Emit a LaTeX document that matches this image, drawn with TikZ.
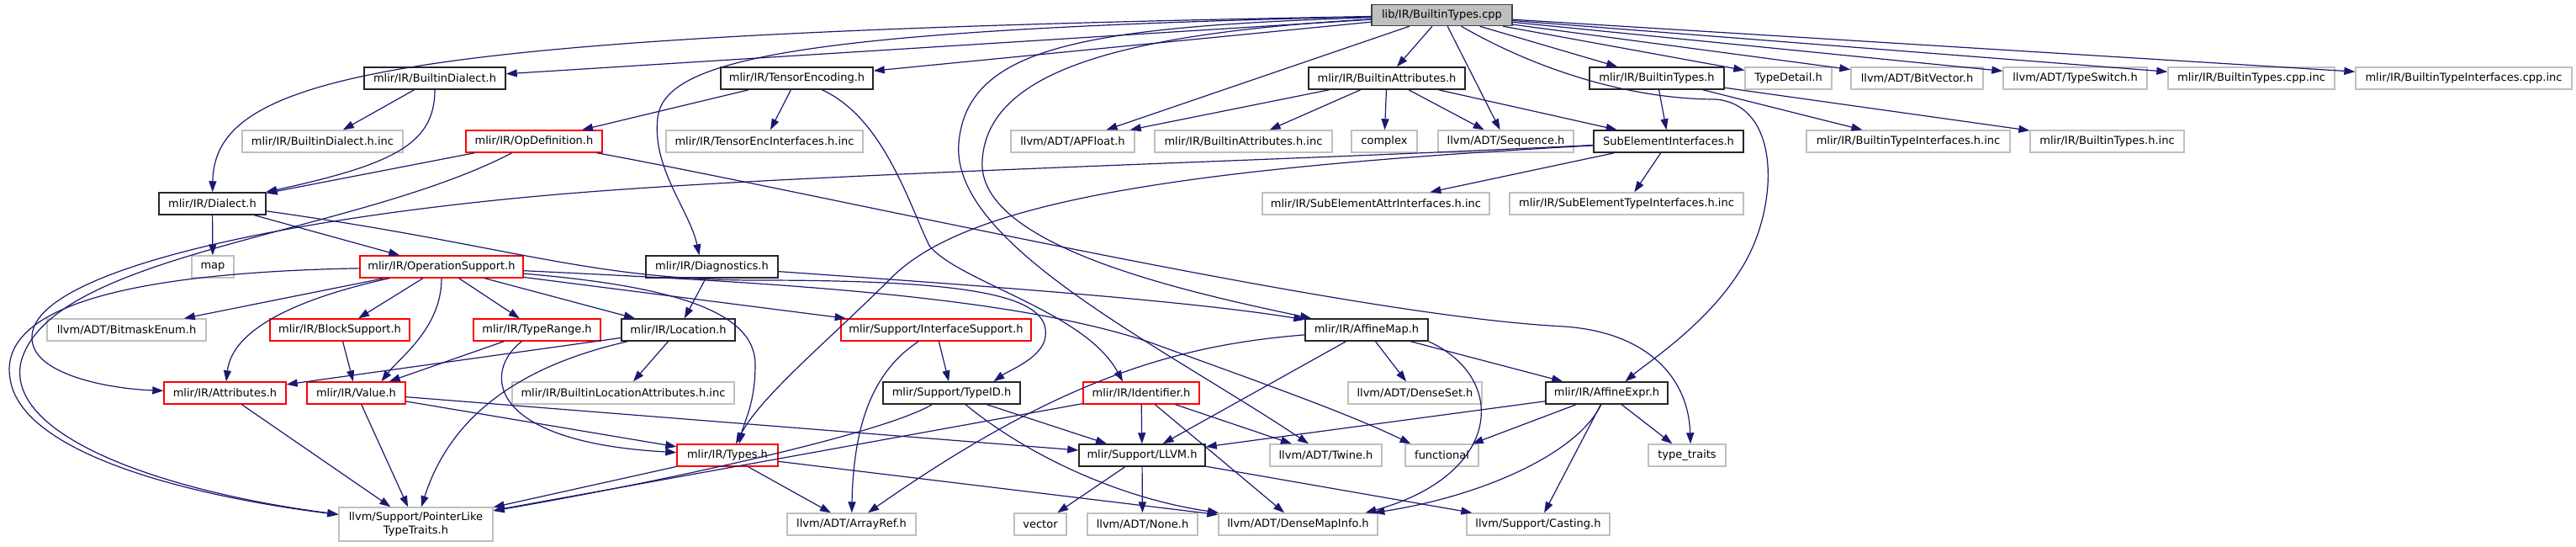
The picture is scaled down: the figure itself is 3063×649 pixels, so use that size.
\documentclass[tikz,border=0pt]{standalone}
\usepackage{fontspec}
\setmainfont{DejaVu Sans}
\usetikzlibrary{arrows.meta}
\definecolor{GraphEdge}{HTML}{191970}
\definecolor{GraphGrey}{HTML}{BFBFBF}
\definecolor{GraphRed}{HTML}{FF0000}
\definecolor{GraphInk}{HTML}{000000}
\tikzset{
  every node/.style={font=\fontsize{13}{15}\selectfont, text=GraphInk, inner sep=1pt, minimum height=26pt},
  docfile/.style={draw=GraphInk!85, line width=1.5pt, fill=white},
  extfile/.style={draw=GraphGrey, line width=1.4pt, fill=white},
  cutfile/.style={draw=GraphRed, line width=1.4pt, fill=white},
  rootfile/.style={draw=GraphInk!75, line width=1.5pt, fill=GraphGrey, minimum height=25pt},
  incl/.style={-{Triangle[length=13pt,width=9pt]}, draw=GraphEdge, line width=1.2pt},
}
\begin{document}
\begin{tikzpicture}[x=1pt,y=-1pt]
  \useasboundingbox (0,0) rectangle (3063,649);
  % Rank 0: the source file
  \node[rootfile, minimum width=167pt] (cpp) at (1714.5,18) {lib/IR/BuiltinTypes.cpp};
  % Rank 1
  \node[docfile, minimum width=168pt] (bdialect) at (517,93) {mlir/IR/BuiltinDialect.h};
  \node[docfile, minimum width=181pt] (tenc) at (947.5,93) {mlir/IR/TensorEncoding.h};
  \node[docfile, minimum width=186pt] (battr) at (1649,93) {mlir/IR/BuiltinAttributes.h};
  \node[docfile, minimum width=160pt] (btypes) at (1970,93) {mlir/IR/BuiltinTypes.h};
  \node[extfile, minimum width=103pt] (tdetail) at (2126.5,93) {TypeDetail.h};
  \node[extfile, minimum width=157pt] (bitvec) at (2279.5,93) {llvm/ADT/BitVector.h};
  \node[extfile, minimum width=171pt] (tswitch) at (2467.5,93) {llvm/ADT/TypeSwitch.h};
  \node[extfile, minimum width=198pt] (btcppinc) at (2677,93) {mlir/IR/BuiltinTypes.cpp.inc};
  \node[extfile, minimum width=257pt] (bticppinc) at (2929.5,93) {mlir/IR/BuiltinTypeInterfaces.cpp.inc};
  % Rank 2
  \node[extfile, minimum width=191pt] (bdialinc) at (383.5,168) {mlir/IR/BuiltinDialect.h.inc};
  \node[cutfile, minimum width=162pt] (opdef) at (635,168) {mlir/IR/OpDefinition.h};
  \node[extfile, minimum width=234pt] (tencinc) at (909,168) {mlir/IR/TensorEncInterfaces.h.inc};
  \node[extfile, minimum width=147pt] (apfloat) at (1275.5,168) {llvm/ADT/APFloat.h};
  \node[extfile, minimum width=211pt] (battrinc) at (1478.5,168) {mlir/IR/BuiltinAttributes.h.inc};
  \node[extfile, minimum width=78pt] (complex) at (1646,168) {complex};
  \node[extfile, minimum width=161pt] (sequence) at (1790.5,168) {llvm/ADT/Sequence.h};
  \node[docfile, minimum width=178pt] (subelem) at (1984,168) {SubElementInterfaces.h};
  \node[extfile, minimum width=242pt] (btihinc) at (2269,168) {mlir/IR/BuiltinTypeInterfaces.h.inc};
  \node[extfile, minimum width=183pt] (bthinc) at (2505.5,168) {mlir/IR/BuiltinTypes.h.inc};
  % Rank 3
  \node[docfile, minimum width=127pt] (dialect) at (252.5,242) {mlir/IR/Dialect.h};
  \node[extfile, minimum width=270pt] (subattrinc) at (1636,242) {mlir/IR/SubElementAttrInterfaces.h.inc};
  \node[extfile, minimum width=278pt] (subtypeinc) at (1934,242) {mlir/IR/SubElementTypeInterfaces.h.inc};
  % Rank 4
  \node[extfile, minimum width=50pt] (map) at (253,317) {map};
  \node[cutfile, minimum width=194pt] (opsupport) at (525,317) {mlir/IR/OperationSupport.h};
  \node[docfile, minimum width=157pt] (diag) at (846.5,317) {mlir/IR/Diagnostics.h};
  % Rank 5
  \node[extfile, minimum width=189pt] (bitmask) at (150.5,392) {llvm/ADT/BitmaskEnum.h};
  \node[cutfile, minimum width=166pt] (blocksup) at (404,392) {mlir/IR/BlockSupport.h};
  \node[cutfile, minimum width=151pt] (typerange) at (638.5,392) {mlir/IR/TypeRange.h};
  \node[docfile, minimum width=135pt] (location) at (806.5,392) {mlir/IR/Location.h};
  \node[cutfile, minimum width=226pt] (ifsupport) at (1113,392) {mlir/Support/InterfaceSupport.h};
  \node[docfile, minimum width=146pt] (affinemap) at (1625,392) {mlir/IR/AffineMap.h};
  % Rank 6
  \node[cutfile, minimum width=145pt] (attributes) at (267.5,467) {mlir/IR/Attributes.h};
  \node[cutfile, minimum width=117pt] (value) at (423.5,467) {mlir/IR/Value.h};
  \node[extfile, minimum width=264pt] (blocattrinc) at (741,467) {mlir/IR/BuiltinLocationAttributes.h.inc};
  \node[docfile, minimum width=163pt] (typeid) at (1131.5,467) {mlir/Support/TypeID.h};
  \node[cutfile, minimum width=138pt] (identifier) at (1357,467) {mlir/IR/Identifier.h};
  \node[extfile, minimum width=159pt] (denseset) at (1682.5,467) {llvm/ADT/DenseSet.h};
  \node[docfile, minimum width=145pt] (affineexpr) at (1910.5,467) {mlir/IR/AffineExpr.h};
  % Rank 7
  \node[cutfile, minimum width=120pt] (types) at (865,541) {mlir/IR/Types.h};
  \node[docfile, minimum width=150pt] (llvm) at (1358,541) {mlir/Support/LLVM.h};
  \node[extfile, minimum width=133pt] (twine) at (1576.5,541) {llvm/ADT/Twine.h};
  \node[extfile, minimum width=87pt] (functional) at (1714.5,541) {functional};
  \node[extfile, minimum width=92pt] (typetraits) at (2006,541) {type\_traits};
  % Rank 8
  \node[extfile, minimum width=183pt, minimum height=40pt, align=center, font=\fontsize{13}{16}\selectfont] (pointerlike) at (494.5,623) {llvm/Support/PointerLike\\TypeTraits.h};
  \node[extfile, minimum width=153pt] (arrayref) at (1012.5,623) {llvm/ADT/ArrayRef.h};
  \node[extfile, minimum width=62pt] (vector) at (1237,623) {vector};
  \node[extfile, minimum width=131pt] (none) at (1358.5,623) {llvm/ADT/None.h};
  \node[extfile, minimum width=189pt] (densemap) at (1543.5,623) {llvm/ADT/DenseMapInfo.h};
  \node[extfile, minimum width=170pt] (casting) at (1829,623) {llvm/Support/Casting.h};

  % Includes of the source file
  \draw[incl] (cpp) -- (bdialect);
  \draw[incl] (cpp) -- (tenc);
  \draw[incl] (cpp) .. controls (480,40) and (255,85) .. (dialect);
  \draw[incl] (cpp) .. controls (950,35) and (790,70) .. (782,140) .. controls (775,200) and (820,250) .. ([xshift=-15pt]diag.north);
  \draw[incl] (cpp) -- (apfloat);
  \draw[incl] (cpp) -- (battr);
  \draw[incl] (cpp) -- (sequence);
  \draw[incl] (cpp) -- (btypes);
  \draw[incl] (cpp) -- (tdetail);
  \draw[incl] (cpp) -- (bitvec);
  \draw[incl] (cpp) -- (tswitch);
  \draw[incl] (cpp) -- (btcppinc);
  \draw[incl] (cpp) -- (bticppinc);
  \draw[incl] (cpp) .. controls (1840,90) and (1950,118) .. (2040,118) .. controls (2120,125) and (2115,250) .. (2070,320) .. controls (2030,385) and (1960,430) .. ([xshift=22pt]affineexpr.north);
  \draw[incl] (cpp) .. controls (1290,32) and (1150,55) .. (1140,170) .. controls (1130,290) and (1380,410) .. (twine);
  \draw[incl] (cpp) .. controls (1330,40) and (1175,85) .. (1168,190) .. controls (1160,290) and (1400,345) .. (affinemap);
  % Rank 1 sources
  \draw[incl] (bdialect) -- (bdialinc);
  \draw[incl] (bdialect) .. controls (517,170) and (470,195) .. (dialect);
  \draw[incl] (tenc) -- (opdef);
  \draw[incl] (tenc) -- (tencinc);
  \draw[incl] (tenc) .. controls (1050,140) and (1080,240) .. (1105,292) .. controls (1140,335) and (1290,370) .. ([xshift=-22pt]identifier.north);
  \draw[incl] (battr) -- (apfloat);
  \draw[incl] (battr) -- (battrinc);
  \draw[incl] (battr) -- (complex);
  \draw[incl] (battr) -- (sequence);
  \draw[incl] (battr) -- (subelem);
  \draw[incl] (btypes) -- (subelem);
  \draw[incl] (btypes) -- (btihinc);
  \draw[incl] (btypes) -- (bthinc);
  % Rank 2 sources
  \draw[incl] (opdef) -- (dialect);
  \draw[incl] (opdef) .. controls (420,280) and (60,300) .. (25,430) .. controls (5,520) and (200,585) .. (pointerlike);
  \draw[incl] (opdef) .. controls (1000,235) and (1600,375) .. (1860,388) .. controls (1960,395) and (2008,450) .. ([xshift=4pt]typetraits.north);
  \draw[incl] (subelem) -- (subattrinc);
  \draw[incl] (subelem) -- (subtypeinc);
  \draw[incl] (subelem) .. controls (1500,192) and (1000,205) .. (700,228) .. controls (350,255) and (40,320) .. (38,400) .. controls (36,445) and (130,462) .. (attributes);
  \draw[incl] (subelem) .. controls (1400,200) and (1150,240) .. (1060,330) .. controls (985,405) and (905,470) .. ([xshift=10pt]types.north);
  % Rank 3 and 4 sources
  \draw[incl] (dialect) -- (map);
  \draw[incl] (dialect) -- (opsupport);
  \draw[incl] (dialect) .. controls (600,290) and (700,333) .. (900,333) .. controls (1150,333) and (1250,350) .. (1243,400) .. controls (1240,425) and (1200,440) .. ([xshift=50pt]typeid.north);
  \draw[incl] (opsupport) -- (bitmask);
  \draw[incl] (opsupport) -- (blocksup);
  \draw[incl] (opsupport) -- (typerange);
  \draw[incl] (opsupport) -- (location);
  \draw[incl] (opsupport) .. controls (330,360) and (275,400) .. (attributes);
  \draw[incl] (opsupport) .. controls (525,390) and (475,425) .. ([xshift=30pt]value.north);
  \draw[incl] (opsupport) -- (ifsupport);
  \draw[incl] (opsupport) .. controls (800,340) and (898,370) .. (898,433) .. controls (898,480) and (885,500) .. ([xshift=14pt]types.north);
  \draw[incl] (opsupport) .. controls (900,335) and (1200,350) .. (1368,407) .. controls (1500,455) and (1600,490) .. ([xshift=-37pt]functional.north);
  \draw[incl] (opsupport) .. controls (100,325) and (0,380) .. (12,450) .. controls (25,540) and (230,590) .. (pointerlike);
  \draw[incl] (diag) -- (location);
  \draw[incl] (diag) .. controls (1100,335) and (1400,355) .. (affinemap);
  % Rank 5 sources
  \draw[incl] (blocksup) -- (value);
  \draw[incl] (typerange) -- (value);
  \draw[incl] (typerange) .. controls (575,440) and (575,525) .. (types);
  \draw[incl] (location) -- (attributes);
  \draw[incl] (location) -- (blocattrinc);
  \draw[incl] (location) .. controls (640,430) and (540,480) .. (pointerlike);
  \draw[incl] (ifsupport) -- (typeid);
  \draw[incl] (ifsupport) .. controls (1040,440) and (1015,500) .. (arrayref);
  \draw[incl] (affinemap) .. controls (1400,410) and (1260,450) .. (arrayref);
  \draw[incl] (affinemap) -- (llvm);
  \draw[incl] (affinemap) -- (denseset);
  \draw[incl] (affinemap) -- (affineexpr);
  \draw[incl] (affinemap.south east) .. controls (1795,450) and (1785,565) .. ([xshift=80pt]densemap.north);
  % Rank 6 sources
  \draw[incl] (attributes) -- (pointerlike);
  \draw[incl] (value) -- (pointerlike);
  \draw[incl] (value) -- (types);
  \draw[incl] (value) -- (llvm);
  \draw[incl] (typeid) .. controls (1050,515) and (800,570) .. (pointerlike);
  \draw[incl] (typeid) -- (llvm);
  \draw[incl] (typeid) .. controls (1220,540) and (1330,592) .. (densemap);
  \draw[incl] (identifier) -- (pointerlike);
  \draw[incl] (identifier) -- (llvm);
  \draw[incl] (identifier) -- (densemap);
  \draw[incl] (identifier) -- (twine);
  \draw[incl] (affineexpr) -- (llvm);
  \draw[incl] (affineexpr) -- (functional);
  \draw[incl] (affineexpr) -- (typetraits);
  \draw[incl] (affineexpr) .. controls (1875,540) and (1760,590) .. (densemap);
  \draw[incl] (affineexpr) -- (casting);
  % Rank 7 sources
  \draw[incl] (types) -- (pointerlike);
  \draw[incl] (types) -- (arrayref);
  \draw[incl] (types) -- (densemap);
  \draw[incl] (llvm) -- (vector);
  \draw[incl] (llvm) -- (none);
  \draw[incl] (llvm) -- (casting);
\end{tikzpicture}
\end{document}
